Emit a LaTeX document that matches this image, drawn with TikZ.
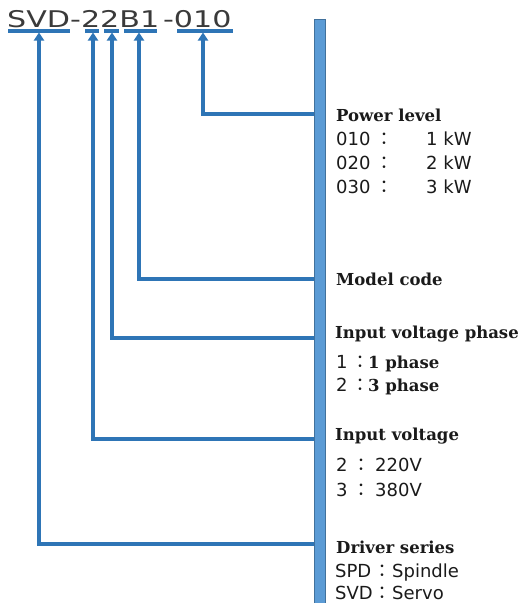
\documentclass[tikz,border=0pt]{standalone}
\usepackage{graphicx}
\usepackage{fontspec}
\setmainfont{DejaVu Serif}
\setsansfont{DejaVu Sans}
\newfontfamily\cjk{Noto Sans CJK JP}
\usetikzlibrary{arrows.meta}
\definecolor{linec}{HTML}{2E75B6}
\definecolor{barfill}{HTML}{5B9BD5}
\definecolor{barline}{HTML}{41719C}
\definecolor{titlec}{HTML}{3A3A3A}
\definecolor{textc}{HTML}{1A1A1A}
\newcommand\vrow[4]{\rlap{#1}\hspace*{#2}\makebox[0pt][c]{\cjk ：}\hspace*{\dimexpr#3-#2\relax}#4}
\begin{document}
\begin{tikzpicture}[x=1pt,y=-1pt,
  uline/.style={linec, line width=3.2pt},
  arr/.style={linec, line width=3.2pt, -{Triangle[length=8pt,width=10pt]}},
  head/.style={anchor=base west, inner sep=0, font=\fontsize{16.5}{18}\selectfont\bfseries, text=textc},
  val/.style={anchor=base west, inner sep=0, font=\sffamily\fontsize{18}{20}\selectfont, text=textc},
  barbox/.style={draw=barline, fill=barfill, line width=1pt, minimum width=11pt, minimum height=600pt, inner sep=0, anchor=north west},
]
\useasboundingbox (0,0) rectangle (521,603);

% title
\node[anchor=base west, inner sep=0, text=titlec, font=\sffamily\fontsize{23}{26}\selectfont] (title) at (7,27) {\scalebox{1.31}[1]{SVD-22B1\kern3pt-010}};

% underlines
\coordinate (u1a) at (8,31);   \coordinate (u1b) at (70,31);
\coordinate (u2a) at (85,31);  \coordinate (u2b) at (99,31);
\coordinate (u3a) at (104,31); \coordinate (u3b) at (119,31);
\coordinate (u4a) at (124,31); \coordinate (u4b) at (157,31);
\coordinate (u5a) at (177,31); \coordinate (u5b) at (233,31);
\draw[uline] (u1a) -- (u1b);
\draw[uline] (u2a) -- (u2b);
\draw[uline] (u3a) -- (u3b);
\draw[uline] (u4a) -- (u4b);
\draw[uline] (u5a) -- (u5b);

% arrow tips
\coordinate (t1) at (203,32.5);
\coordinate (t2) at (139,32.5);
\coordinate (t3) at (112,32.5);
\coordinate (t4) at (93,32.5);
\coordinate (t5) at (39,32.5);

% junctions on the bar
\coordinate (j1) at (315,114);
\coordinate (j2) at (315,279);
\coordinate (j3) at (315,338);
\coordinate (j4) at (315,439);
\coordinate (j5) at (315,544);

\draw[arr] (j1) -| (t1);
\draw[arr] (j2) -| (t2);
\draw[arr] (j3) -| (t3);
\draw[arr] (j4) -| (t4);
\draw[arr] (j5) -| (t5);

% bar
\node[barbox] (bar) at (314,19) {};

% labels
\node[head] (h1) at (336,121) {Power level};
\node[val] (p1) at (336,145) {\vrow{010}{48.5pt}{90pt}{1 kW}};
\node[val] (p2) at (336,169) {\vrow{020}{48.5pt}{90pt}{2 kW}};
\node[val] (p3) at (336,193) {\vrow{030}{48.5pt}{90pt}{3 kW}};

\node[head] (h2) at (336,285) {Model code};

\node[head] (h3) at (335,338) {Input voltage phase};
\node[val] (ph1) at (336,368) {\vrow{1}{24pt}{32pt}{\rmfamily\bfseries\fontsize{16.5}{18}\selectfont 1 phase}};
\node[val] (ph2) at (336,391) {\vrow{2}{24pt}{32pt}{\rmfamily\bfseries\fontsize{16.5}{18}\selectfont 3 phase}};

\node[head] (h4) at (335,440) {Input voltage};
\node[val] (v1) at (336,471) {\vrow{2}{25pt}{39pt}{220V}};
\node[val] (v2) at (336,496) {\vrow{3}{25pt}{39pt}{380V}};

\node[head] (h5) at (336,553) {Driver series};
\node[val] (s1) at (335,577) {\vrow{SPD}{47pt}{57pt}{Spindle}};
\node[val] (s2) at (335,599) {\vrow{SVD}{47pt}{57pt}{Servo}};
\end{tikzpicture}
\end{document}
